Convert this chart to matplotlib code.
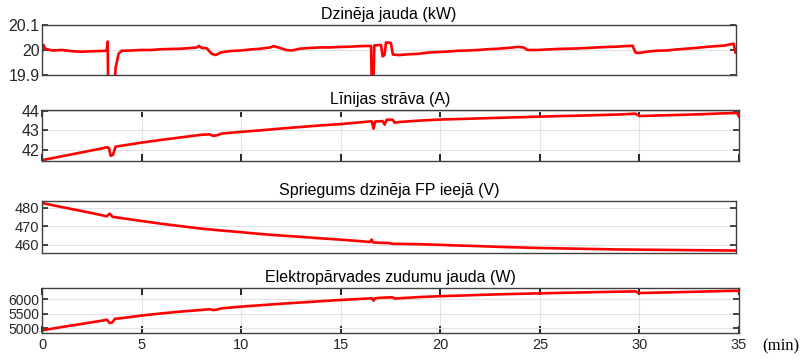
import matplotlib
matplotlib.use("Agg")
import matplotlib.pyplot as plt

plt.rcParams['font.family'] = ['Liberation Sans', 'DejaVu Sans']

# Dzinēja jauda (kW)
t_p = [0.0, 0.05, 0.15, 0.5, 1.0, 1.5, 2.0, 2.5, 3.0, 3.25, 3.3, 3.33, 3.6, 3.7, 3.85,
       4.0, 4.5, 5.0, 5.5, 6.0, 6.5, 7.0, 7.5, 7.8, 7.9, 8.05, 8.3, 8.55, 8.75, 9.0,
       9.5, 10.0, 10.5, 11.0, 11.5, 11.7, 12.0, 12.3, 12.6, 13.0, 13.5, 14.0, 14.5,
       15.0, 15.5, 16.0, 16.6, 16.64, 16.7, 16.76, 17.1, 17.18, 17.28, 17.35, 17.6,
       17.7, 18.0, 18.5, 19.0, 19.5, 20.0, 20.5, 21.0, 21.5, 22.0, 22.5, 23.0, 23.5,
       24.0, 24.3, 24.5, 25.0, 25.5, 26.0, 26.5, 27.0, 27.5, 28.0, 28.5, 29.0, 29.8,
       29.95, 30.1, 30.5, 31.0, 31.5, 32.0, 32.5, 33.0, 33.5, 34.0, 34.5, 34.9, 35.0]
power = [19.995, 20.02, 20.005, 19.998, 20.0, 19.995, 19.993, 19.995, 19.996, 19.997,
         20.033, 19.8, 19.8, 19.93, 19.985, 19.997, 19.998, 20.0, 20.0, 20.003, 20.004,
         20.005, 20.008, 20.01, 20.016, 20.008, 20.007, 19.985, 19.98, 19.99, 19.996,
         19.998, 20.002, 20.005, 20.01, 20.015, 20.008, 20.0, 19.998, 20.005, 20.008,
         20.01, 20.01, 20.012, 20.013, 20.015, 20.016, 19.8, 19.8, 20.018, 20.02,
         19.975, 19.98, 20.03, 20.028, 19.982, 19.98, 19.983, 19.985, 19.99, 19.992,
         19.994, 19.997, 19.998, 20.0, 20.003, 20.005, 20.008, 20.012, 20.01, 20.0,
         20.0, 20.002, 20.004, 20.005, 20.006, 20.008, 20.01, 20.012, 20.013, 20.017,
         19.99, 19.988, 19.993, 19.997, 19.998, 20.002, 20.005, 20.008, 20.012, 20.015,
         20.018, 20.025, 19.99]

# Līnijas strāva (A)
t_i = [0, 1, 2, 3, 3.25, 3.35, 3.43, 3.55, 3.68, 4, 5, 6, 7, 8, 8.4, 8.6, 8.8, 9, 10,
       11, 12, 13, 14, 15, 16, 16.55, 16.64, 16.72, 17.1, 17.2, 17.3, 17.6, 17.7, 18,
       19, 20, 21, 22, 23, 24, 25, 26, 27, 28, 29, 29.8, 30, 31, 32, 33, 34, 34.9, 35]
current = [41.48, 41.68, 41.88, 42.08, 42.14, 42.1, 41.7, 41.75, 42.17, 42.22, 42.38,
           42.52, 42.65, 42.78, 42.8, 42.72, 42.76, 42.84, 42.93, 43.01, 43.1, 43.18,
           43.26, 43.33, 43.42, 43.47, 43.09, 43.46, 43.48, 43.3, 43.55, 43.55, 43.4,
           43.44, 43.51, 43.56, 43.59, 43.62, 43.65, 43.68, 43.71, 43.74, 43.76, 43.79,
           43.82, 43.86, 43.74, 43.77, 43.8, 43.83, 43.87, 43.9, 43.72]

# Spriegums dzinēja FP ieejā (V)
t_u = [0, 1, 2, 3, 3.25, 3.4, 3.55, 4, 5, 6, 7, 8, 9, 10, 11, 12, 13, 14, 15, 16,
       16.55, 16.62, 16.7, 17, 17.5, 17.7, 18, 19, 20, 21, 22, 23, 24, 25, 26, 27, 28,
       29, 30, 31, 32, 33, 34, 35]
voltage = [482.5, 480.3, 478.2, 476.0, 475.4, 476.8, 475.1, 474.4, 472.9, 471.4,
           470.1, 468.8, 467.8, 466.9, 465.9, 465.1, 464.4, 463.6, 462.9, 462.1, 461.6,
           462.9, 461.4, 461.2, 461.0, 460.6, 460.6, 460.4, 460.1, 459.7, 459.4, 459.0,
           458.7, 458.4, 458.2, 458.0, 457.8, 457.6, 457.5, 457.4, 457.3, 457.2, 457.1,
           457.0]

# Elektropārvades zudumu jauda (W)
t_l = [0, 1, 2, 3, 3.25, 3.38, 3.5, 3.65, 4, 5, 6, 7, 8, 8.4, 8.6, 8.8, 9, 10, 11, 12,
       13, 14, 15, 16, 16.55, 16.64, 16.72, 17, 17.6, 17.7, 18, 19, 20, 21, 22, 23, 24,
       25, 26, 27, 28, 29, 29.8, 29.95, 31, 32, 33, 34, 34.9, 35]
losses = [4925, 5040, 5150, 5260, 5293, 5178, 5190, 5327, 5350, 5440, 5515, 5580,
          5635, 5660, 5630, 5650, 5690, 5750, 5800, 5850, 5895, 5940, 5983, 6020, 6040,
          5960, 6040, 6060, 6075, 6030, 6045, 6085, 6115, 6135, 6160, 6180, 6198, 6213,
          6228, 6243, 6258, 6272, 6282, 6225, 6240, 6255, 6272, 6290, 6305, 6270]

titles = ['Dzinēja jauda (kW)', 'Līnijas strāva (A)',
          'Spriegums dzinēja FP ieejā (V)', 'Elektropārvades zudumu jauda (W)']
x_ticks = [0, 5, 10, 15, 20, 25, 30, 35]

fig = plt.figure(figsize=(8.03, 3.59), dpi=100)

# [left, bottom, width, height], data, y-limits, y-ticks, tick font size, x ticks shown
panels = [
    ([0.0527, 0.790, 0.8633, 0.1415], (t_p, power), (19.9, 20.1), [19.9, 20, 20.1], 11.5, False),
    ([0.0527, 0.5524, 0.8676, 0.1412], (t_i, current), (41.45, 44.05), [42, 43, 44], 11.5, True),
    ([0.0527, 0.2953, 0.8633, 0.1448], (t_u, voltage), (455.7, 483.6), [460, 470, 480], 10.5, False),
    ([0.0527, 0.0716, 0.8676, 0.1262], (t_l, losses), (4820, 6400), [5000, 5500, 6000], 10, True),
]

for k, (rect, (tx, vy), ylim, yt, fs, showx) in enumerate(panels):
    ax = fig.add_axes(rect)
    ax.plot(tx, vy, color='#ff0000', lw=1.9)
    ax.set_xlim(0, 35)
    ax.set_ylim(*ylim)
    ax.set_yticks(yt)
    ax.set_yticklabels([('%g' % v) for v in yt])
    ax.set_title(titles[k], fontsize=11.5, pad=4)
    ax.grid(True, color='#e3e3e3', lw=0.8)
    ax.set_axisbelow(True)
    ax.tick_params(axis='y', direction='in', left=True, right=True, length=4,
                   width=1.2, labelsize=fs, colors='#262626', pad=2)
    ax.set_xticks(x_ticks)
    if showx:
        ax.tick_params(axis='x', direction='in', top=True, bottom=True, length=5,
                       width=1.4, colors='#262626', labelsize=10.5)
    else:
        ax.xaxis.grid(False)
        ax.tick_params(axis='x', length=0)
    if k != 3:
        ax.tick_params(axis='x', labelbottom=False)
    for s in ax.spines.values():
        s.set_color('#404040')
        s.set_linewidth(1.0)

fig.text(0.949, 0.036, '(min)', family='Liberation Serif', fontsize=12,
         ha='left', va='center')

fig.savefig('out.png', dpi=100)
